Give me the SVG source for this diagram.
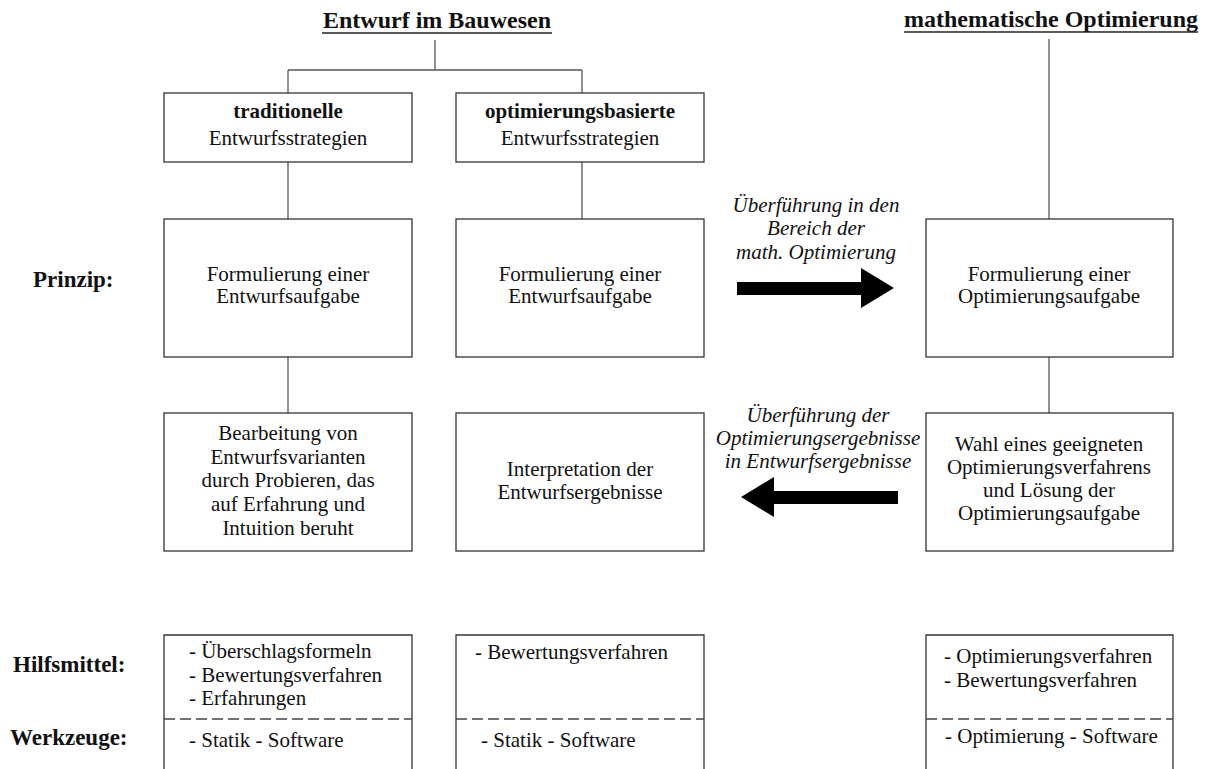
<svg xmlns="http://www.w3.org/2000/svg" width="1207" height="769" viewBox="0 0 1207 769">
  <style>
    text { font-family: "Liberation Serif", "Times New Roman", serif; fill: #111; }
    .t { font-size: 21px; text-anchor: middle; }
    .tl { font-size: 21px; }
    .b { font-weight: bold; }
    .head { font-size: 24px; font-weight: bold; text-anchor: middle; }
    .lab { font-size: 23px; font-weight: bold; }
    .it { font-size: 21px; font-style: italic; text-anchor: middle; }
    .box { fill: #fff; stroke: #333; stroke-width: 1.3; }
    .open { fill: none; stroke: #333; stroke-width: 1.3; }
    .dash { stroke: #444; stroke-width: 1.3; stroke-dasharray: 11 5; }
    .conn line { stroke: #555; stroke-width: 1.3; }
    .big { fill: #000; }
  </style>

  <!-- column headings -->
  <g id="head-bauwesen">
    <text class="head" x="437" y="28">Entwurf im Bauwesen</text>
    <line x1="322" y1="33" x2="552" y2="33" stroke="#222" stroke-width="1.3"/>
  </g>
  <g id="head-optimierung">
    <text class="head" x="1051" y="27">mathematische Optimierung</text>
    <line x1="904" y1="32" x2="1198" y2="32" stroke="#222" stroke-width="1.3"/>
  </g>

  <!-- row labels -->
  <g id="labels">
    <text class="lab" x="33" y="287">Prinzip:</text>
    <text class="lab" x="13" y="672">Hilfsmittel:</text>
    <text class="lab" x="10" y="745">Werkzeuge:</text>
  </g>

  <!-- tree connectors -->
  <g id="connectors" class="conn">
    <line x1="435" y1="40" x2="435" y2="70"/>
    <line x1="288" y1="70" x2="582" y2="70"/>
    <line x1="288" y1="70" x2="288" y2="93"/>
    <line x1="582" y1="70" x2="582" y2="93"/>
    <line x1="288" y1="162" x2="288" y2="219"/>
    <line x1="582" y1="162" x2="582" y2="219"/>
    <line x1="288" y1="357" x2="288" y2="413"/>
    <line x1="1049" y1="39" x2="1049" y2="219"/>
    <line x1="1049" y1="357" x2="1049" y2="413"/>
  </g>

  <!-- strategy boxes -->
  <g id="traditionell">
    <rect class="box" x="164" y="93" width="248" height="69"/>
    <text class="t b" x="288" y="118">traditionelle</text>
    <text class="t" x="288" y="145">Entwurfsstrategien</text>
  </g>
  <g id="optimierungsbasiert">
    <rect class="box" x="456" y="93" width="248" height="69"/>
    <text class="t b" x="580" y="118">optimierungsbasierte</text>
    <text class="t" x="580" y="145">Entwurfsstrategien</text>
  </g>

  <!-- principle row -->
  <g id="entwurfsaufgabe-trad">
    <rect class="box" x="164" y="219" width="248" height="138"/>
    <text class="t" x="288" y="281">Formulierung einer</text>
    <text class="t" x="288" y="303">Entwurfsaufgabe</text>
  </g>
  <g id="entwurfsaufgabe-opt">
    <rect class="box" x="456" y="219" width="248" height="138"/>
    <text class="t" x="580" y="281">Formulierung einer</text>
    <text class="t" x="580" y="303">Entwurfsaufgabe</text>
  </g>
  <g id="optimierungsaufgabe">
    <rect class="box" x="926" y="219" width="247" height="138"/>
    <text class="t" x="1049" y="281">Formulierung einer</text>
    <text class="t" x="1049" y="303">Optimierungsaufgabe</text>
  </g>

  <g id="bearbeitung">
    <rect class="box" x="164" y="413" width="248" height="138"/>
    <text class="t" x="288" y="440">Bearbeitung von</text>
    <text class="t" x="288" y="464">Entwurfsvarianten</text>
    <text class="t" x="288" y="487">durch Probieren, das</text>
    <text class="t" x="288" y="511">auf Erfahrung und</text>
    <text class="t" x="288" y="535">Intuition beruht</text>
  </g>
  <g id="interpretation">
    <rect class="box" x="456" y="413" width="248" height="138"/>
    <text class="t" x="580" y="476">Interpretation der</text>
    <text class="t" x="580" y="499">Entwurfsergebnisse</text>
  </g>
  <g id="loesung">
    <rect class="box" x="926" y="413" width="247" height="138"/>
    <text class="t" x="1049" y="451">Wahl eines geeigneten</text>
    <text class="t" x="1049" y="474">Optimierungsverfahrens</text>
    <text class="t" x="1049" y="497">und Lösung der</text>
    <text class="t" x="1049" y="520">Optimierungsaufgabe</text>
  </g>

  <!-- transfer arrows -->
  <g id="transfer-hin">
    <text class="it" x="816" y="212">Überführung in den</text>
    <text class="it" x="816" y="235">Bereich der</text>
    <text class="it" x="816" y="259">math. Optimierung</text>
    <polygon class="big" points="737,282 861,282 861,268 894,288 861,308 861,295 737,295"/>
  </g>
  <g id="transfer-zurueck">
    <text class="it" x="818" y="422">Überführung der</text>
    <text class="it" x="818" y="445">Optimierungsergebnisse</text>
    <text class="it" x="818" y="468">in Entwurfsergebnisse</text>
    <polygon class="big" points="898,491 774,491 774,477 741,497 774,517 774,504 898,504"/>
  </g>

  <!-- aids and tools -->
  <g id="hilfsmittel-trad">
    <path class="open" d="M164,775 V635 H412 V775"/>
    <line class="dash" x1="164" y1="719" x2="412" y2="719"/>
    <text class="tl" x="189" y="658">- Überschlagsformeln</text>
    <text class="tl" x="189" y="682">- Bewertungsverfahren</text>
    <text class="tl" x="189" y="705">- Erfahrungen</text>
    <text class="tl" x="189" y="747">- Statik - Software</text>
  </g>
  <g id="hilfsmittel-opt">
    <path class="open" d="M456,775 V635 H704 V775"/>
    <line class="dash" x1="456" y1="719" x2="704" y2="719"/>
    <text class="tl" x="475" y="659">- Bewertungsverfahren</text>
    <text class="tl" x="481" y="747">- Statik - Software</text>
  </g>
  <g id="hilfsmittel-math">
    <path class="open" d="M926,775 V635 H1173 V775"/>
    <line class="dash" x1="926" y1="719" x2="1173" y2="719"/>
    <text class="tl" x="944" y="663">- Optimierungsverfahren</text>
    <text class="tl" x="944" y="687">- Bewertungsverfahren</text>
    <text class="tl" x="945" y="743">- Optimierung - Software</text>
  </g>
</svg>
